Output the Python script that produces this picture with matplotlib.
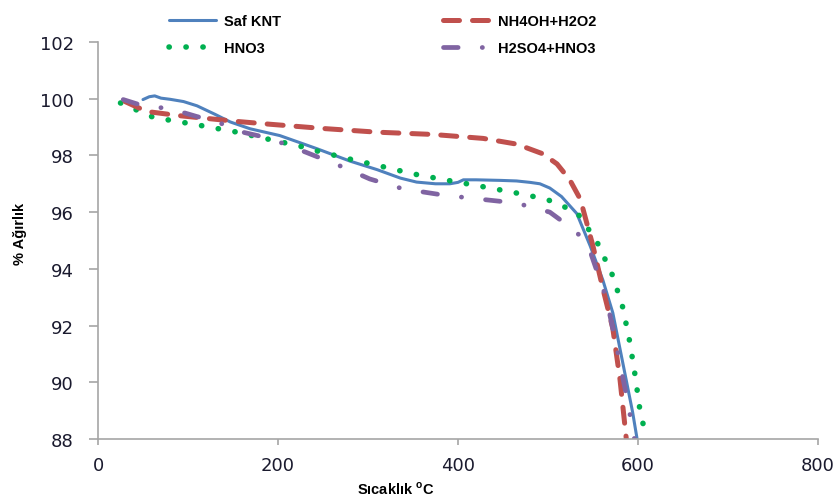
import matplotlib
matplotlib.use("Agg")
import matplotlib.pyplot as plt

# ---- data ----
saf_x = [50, 57, 63, 70, 80, 95, 110, 130, 147, 169, 202, 243, 280, 310, 336, 354, 375, 391, 400, 406, 420, 447, 465, 480, 491, 502, 515, 532, 547, 561, 572, 583, 594, 599]
saf_y = [99.97, 100.07, 100.1, 100.02, 99.98, 99.9, 99.75, 99.45, 99.18, 98.94, 98.7, 98.24, 97.8, 97.5, 97.2, 97.06, 97.0, 97.0, 97.05, 97.14, 97.14, 97.12, 97.1, 97.05, 97.0, 96.85, 96.55, 95.95, 94.8, 93.6, 92.45, 90.7, 88.95, 88.0]

nh_x = [30, 54, 91, 154, 191, 250, 310, 372, 428, 465, 494, 510, 524, 536, 550, 561, 572, 580, 587]
nh_y = [99.9, 99.55, 99.4, 99.2, 99.1, 98.95, 98.82, 98.74, 98.6, 98.4, 98.06, 97.7, 97.15, 96.45, 94.8, 93.3, 91.9, 90.1, 88.0]

hno3_x = [25, 43, 61, 80, 97, 115, 134, 153, 171, 224, 243, 280, 317, 350, 387, 424, 461, 498, 532, 554, 572, 583, 591, 597, 602, 608]
hno3_y = [99.85, 99.6, 99.35, 99.24, 99.15, 99.05, 98.94, 98.83, 98.7, 98.33, 98.16, 97.87, 97.6, 97.35, 97.13, 96.92, 96.7, 96.46, 96.0, 94.98, 93.75, 92.65, 91.4, 90.2, 89.05, 88.2]

h2_x = [28, 50, 80, 110, 132, 154, 191, 232, 269, 302, 339, 384, 424, 465, 502, 532, 547, 565, 576, 588, 596]
h2_y = [99.97, 99.75, 99.65, 99.37, 99.2, 98.87, 98.6, 98.1, 97.63, 97.17, 96.82, 96.6, 96.46, 96.32, 96.0, 95.3, 94.6, 92.94, 91.28, 89.4, 88.0]

labels = ["Saf KNT", "HNO3", "NH4OH+H2O2", "H2SO4+HNO3"]
x_ticks = [0, 200, 400, 600, 800]
y_ticks = [88, 90, 92, 94, 96, 98, 100, 102]

lab_font = {"family": "Liberation Sans", "weight": "bold", "size": 10.5}

W, H = 839, 502
fig = plt.figure(figsize=(W / 100, H / 100), dpi=100)
ax = fig.add_axes([98 / W, 1 - 440 / H, (818 - 98) / W, (440 - 43) / H])

l1, = ax.plot(saf_x, saf_y, color="#4F81BD", lw=2.2, solid_capstyle="round")
l2, = ax.plot(hno3_x, hno3_y, color="#00B050", lw=4.0, linestyle=(0, (0.05, 3.0)),
              dash_capstyle="round")
l3, = ax.plot(nh_x, nh_y, color="#C0504D", lw=3.6, linestyle=(0, (3.2, 2.6)),
              dash_capstyle="round")
l4, = ax.plot(h2_x, h2_y, color="#8064A2", lw=3.4, linestyle=(0, (3.1, 5.1, 0.05, 5.1)),
              dash_capstyle="round")

ax.set_xlim(0, 800)
ax.set_ylim(88, 102)
ax.set_xticks(x_ticks)
ax.set_yticks(y_ticks)
for s in ["top", "right"]:
    ax.spines[s].set_visible(False)
for s in ["left", "bottom"]:
    ax.spines[s].set_color("#A6A6A6")
    ax.spines[s].set_linewidth(1.2)
ax.tick_params(direction="out", width=1.2, color="#A6A6A6",
               labelsize=13, labelcolor="#1A1A2E")
ax.tick_params(axis="y", length=6.5, pad=11)
ax.tick_params(axis="x", length=4.5, pad=8)

ax.set_ylabel("% Ağırlık", fontdict=lab_font)
ax.yaxis.set_label_coords(-0.099, 0.52)
ax.set_xlabel("Sıcaklık $^{\\mathregular{o}}$C", fontdict=lab_font)
ax.xaxis.set_label_coords(0.413, -0.103)

leg = fig.legend([l1, l2, l3, l4], labels, ncol=2, loc="upper left",
                 bbox_to_anchor=(169 / W, 1 - 15 / H), frameon=False,
                 prop={"family": "Liberation Sans", "weight": "bold", "size": 10.5},
                 handlelength=3.2, handletextpad=0.6, columnspacing=11.05,
                 labelspacing=0.9, borderpad=0, borderaxespad=0)

fig.savefig("out.png", dpi=100)
